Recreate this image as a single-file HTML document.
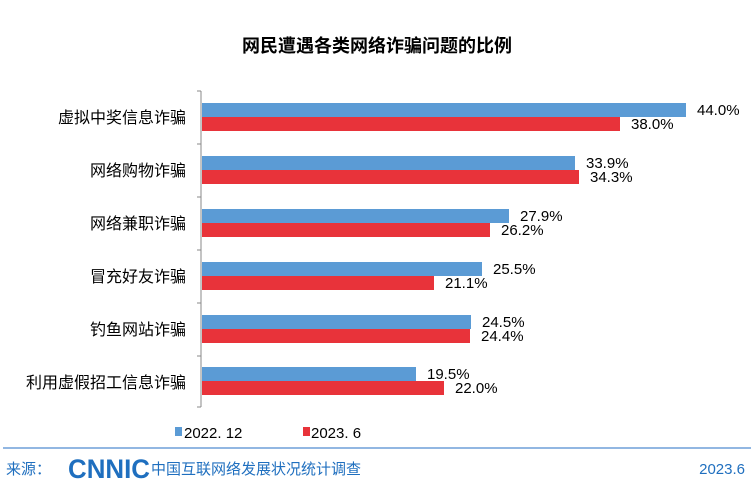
<!DOCTYPE html>
<html><head><meta charset="utf-8"><style>
body{margin:0;background:#fff;}
svg{display:block;font-family:"Liberation Sans","Noto Sans CJK SC",sans-serif;}
</style></head><body>
<svg width="754" height="496" viewBox="0 0 754 496">
<text x="377" y="52" text-anchor="middle" font-size="18" font-weight="bold" fill="#000">网民遭遇各类网络诈骗问题的比例</text>
<line x1="201" y1="91" x2="201" y2="407" stroke="#888"/>
<g stroke="#888">
<line x1="197" y1="91" x2="201" y2="91"/><line x1="197" y1="144" x2="201" y2="144"/><line x1="197" y1="197" x2="201" y2="197"/><line x1="197" y1="250" x2="201" y2="250"/><line x1="197" y1="303" x2="201" y2="303"/><line x1="197" y1="356" x2="201" y2="356"/><line x1="197" y1="407" x2="201" y2="407"/>
</g>
<g font-size="15" fill="#000">
<rect x="202" y="103" width="484" height="14" fill="#5b9bd5"/>
<rect x="202" y="117" width="418" height="14" fill="#e8333a"/>
<text x="697" y="115">44.0%</text><text x="631" y="129">38.0%</text>
<rect x="202" y="156" width="373" height="14" fill="#5b9bd5"/>
<rect x="202" y="170" width="377" height="14" fill="#e8333a"/>
<text x="586" y="168">33.9%</text><text x="590" y="182">34.3%</text>
<rect x="202" y="209" width="307" height="14" fill="#5b9bd5"/>
<rect x="202" y="223" width="288" height="14" fill="#e8333a"/>
<text x="520" y="221">27.9%</text><text x="501" y="235">26.2%</text>
<rect x="202" y="262" width="280" height="14" fill="#5b9bd5"/>
<rect x="202" y="276" width="232" height="14" fill="#e8333a"/>
<text x="493" y="274">25.5%</text><text x="445" y="288">21.1%</text>
<rect x="202" y="315" width="269" height="14" fill="#5b9bd5"/>
<rect x="202" y="329" width="268" height="14" fill="#e8333a"/>
<text x="482" y="327">24.5%</text><text x="481" y="341">24.4%</text>
<rect x="202" y="367" width="214" height="14" fill="#5b9bd5"/>
<rect x="202" y="381" width="242" height="14" fill="#e8333a"/>
<text x="427" y="379">19.5%</text><text x="455" y="393">22.0%</text>
</g>
<g font-size="16" fill="#000" text-anchor="end">
<text x="186" y="123">虚拟中奖信息诈骗</text>
<text x="186" y="176">网络购物诈骗</text>
<text x="186" y="229">网络兼职诈骗</text>
<text x="186" y="282">冒充好友诈骗</text>
<text x="186" y="335">钓鱼网站诈骗</text>
<text x="186" y="388">利用虚假招工信息诈骗</text>
</g>
<rect x="175" y="427" width="7" height="9" fill="#5b9bd5"/>
<text x="184" y="438" font-size="15">2022. 12</text>
<rect x="303" y="427" width="7" height="9" fill="#e8333a"/>
<text x="311" y="438" font-size="15">2023. 6</text>
<line x1="3" y1="448" x2="751" y2="448" stroke="#6f9fd8" stroke-width="1.5"/>
<text x="6" y="474" font-size="15" fill="#1f6fbf">来源：</text>
<text x="68" y="478" font-size="27" font-weight="bold" fill="#1f6fbf" textLength="82" lengthAdjust="spacingAndGlyphs">CNNIC</text>
<text x="151" y="474" font-size="15" fill="#1f6fbf">中国互联网络发展状况统计调查</text>
<text x="745" y="474" font-size="15" fill="#1f6fbf" text-anchor="end">2023.6</text>
</svg>
</body></html>
